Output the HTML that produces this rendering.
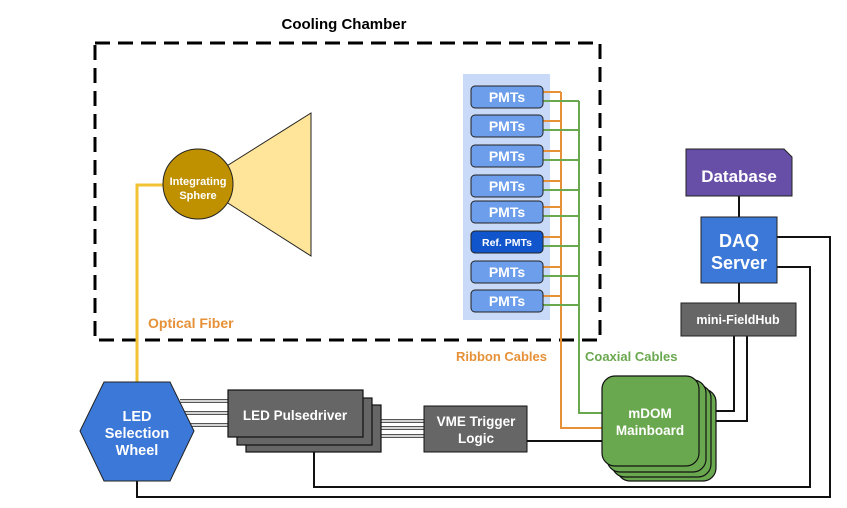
<!DOCTYPE html>
<html><head><style>body{margin:0;background:#fff}svg{display:block}text{font-family:"Liberation Sans",sans-serif;font-weight:bold}</style></head><body>
<svg width="847" height="508" viewBox="0 0 847 508" xmlns="http://www.w3.org/2000/svg">
<text x="344" y="29" font-size="15" text-anchor="middle" fill="#000">Cooling Chamber</text>
<rect x="95" y="43" width="505" height="297" fill="none" stroke="#000" stroke-width="3" stroke-dasharray="15,8"/>
<rect x="463" y="74" width="87" height="246" fill="#c9daf8"/>
<polygon points="198,184 311,113 311,256" fill="#ffe599" stroke="#222" stroke-width="1"/>
<polyline points="137,383 137,185 165,185" fill="none" stroke="#f1c232" stroke-width="3"/>
<circle cx="198" cy="184" r="35" fill="#bf9000" stroke="#222" stroke-width="1"/>
<text x="198" y="185" font-size="11" fill="#fff" text-anchor="middle">Integrating</text>
<text x="198" y="199" font-size="11" fill="#fff" text-anchor="middle">Sphere</text>
<text x="148" y="328" font-size="14" fill="#e69138">Optical Fiber</text>
<g fill="none" stroke-width="2">
<g stroke="#e69138">
<path d="M543 92H561M543 121H561M543 151H561M543 181H561M543 207H561M543 237H561M543 267H561M543 296H561"/>
<path d="M561 92V428H603"/>
</g>
<g stroke="#6aa84f">
<path d="M543 101H579M543 130H579M543 160H579M543 190H579M543 216H579M543 246H579M543 276H579M543 305H579"/>
<path d="M579 101V413H603"/>
</g>
</g>
<g fill="#6d9eeb" stroke="#222" stroke-width="1">
<rect x="471" y="86" width="72" height="22" rx="4"/>
<rect x="471" y="115" width="72" height="22" rx="4"/>
<rect x="471" y="145" width="72" height="22" rx="4"/>
<rect x="471" y="175" width="72" height="22" rx="4"/>
<rect x="471" y="201" width="72" height="22" rx="4"/>
<rect x="471" y="231" width="72" height="22" rx="4" fill="#1155cc"/>
<rect x="471" y="261" width="72" height="22" rx="4"/>
<rect x="471" y="290" width="72" height="22" rx="4"/>
</g>
<g fill="#fff" font-size="14" text-anchor="middle">
<text x="507" y="102">PMTs</text><text x="507" y="131">PMTs</text><text x="507" y="161">PMTs</text><text x="507" y="191">PMTs</text><text x="507" y="217">PMTs</text>
<text x="507" y="246" font-size="10.5">Ref. PMTs</text>
<text x="507" y="277">PMTs</text><text x="507" y="306">PMTs</text>
</g>
<text x="456" y="361" font-size="13" fill="#e69138">Ribbon Cables</text>
<text x="585" y="361" font-size="13" fill="#6aa84f">Coaxial Cables</text>
<g fill="none" stroke="#111" stroke-width="2">
<path d="M137 481V497H830V237H777"/>
<path d="M314 452V487H810V267H777"/>
<path d="M739 196V217M739 283V303"/>
<path d="M734 336V411H715M747 336V421H715"/>
<path d="M527 441H603"/>
</g>
<polygon points="686,149 784,149 792,157 792,196 686,196" fill="#674ea7" stroke="#222"/>
<text x="739" y="182" font-size="17" fill="#fff" text-anchor="middle">Database</text>
<rect x="701" y="217" width="76" height="66" fill="#3c78d8" stroke="#222"/>
<text x="739" y="247" font-size="18" fill="#fff" text-anchor="middle">DAQ</text>
<text x="739" y="269" font-size="18" fill="#fff" text-anchor="middle">Server</text>
<rect x="681" y="303" width="115" height="33" fill="#666" stroke="#222"/>
<text x="738" y="324" font-size="12.5" fill="#fff" text-anchor="middle">mini-FieldHub</text>
<g fill="#6aa84f" stroke="#111" stroke-width="1.2">
<rect x="617" y="389" width="99" height="92" rx="13"/>
<rect x="612" y="385" width="99" height="92" rx="13"/>
<rect x="607" y="380" width="99" height="92" rx="13"/>
<rect x="602" y="376" width="97" height="90" rx="13"/>
</g>
<text x="650" y="418" font-size="13.5" fill="#fff" text-anchor="middle">mDOM</text>
<text x="650" y="435" font-size="13.5" fill="#fff" text-anchor="middle">Mainboard</text>
<g stroke="#555" stroke-width="4"><path d="M180 401H228M182 413H228M186 425H228M380 421H424M380 428H424M380 436H424"/></g>
<g stroke="#fff" stroke-width="1.5"><path d="M180 401H228M182 413H228M186 425H228M380 421H424M380 428H424M380 436H424"/></g>
<g fill="#666" stroke="#111" stroke-width="1.2">
<rect x="246" y="405" width="135" height="47"/>
<rect x="237" y="398" width="135" height="47"/>
<rect x="228" y="390" width="135" height="47"/>
</g>
<text x="295" y="420" font-size="13.5" fill="#fff" text-anchor="middle">LED Pulsedriver</text>
<rect x="424" y="406" width="103" height="46" fill="#666" stroke="#111"/>
<text x="476" y="426" font-size="13.5" fill="#fff" text-anchor="middle">VME Trigger</text>
<text x="476" y="443" font-size="13.5" fill="#fff" text-anchor="middle">Logic</text>
<polygon points="80,431 104,382 170,382 194,431 170,481 104,481" fill="#3c78d8" stroke="#222"/>
<text x="137" y="421" font-size="14.5" fill="#fff" text-anchor="middle">LED</text>
<text x="137" y="438" font-size="14.5" fill="#fff" text-anchor="middle">Selection</text>
<text x="137" y="455" font-size="14.5" fill="#fff" text-anchor="middle">Wheel</text>
</svg>
</body></html>
